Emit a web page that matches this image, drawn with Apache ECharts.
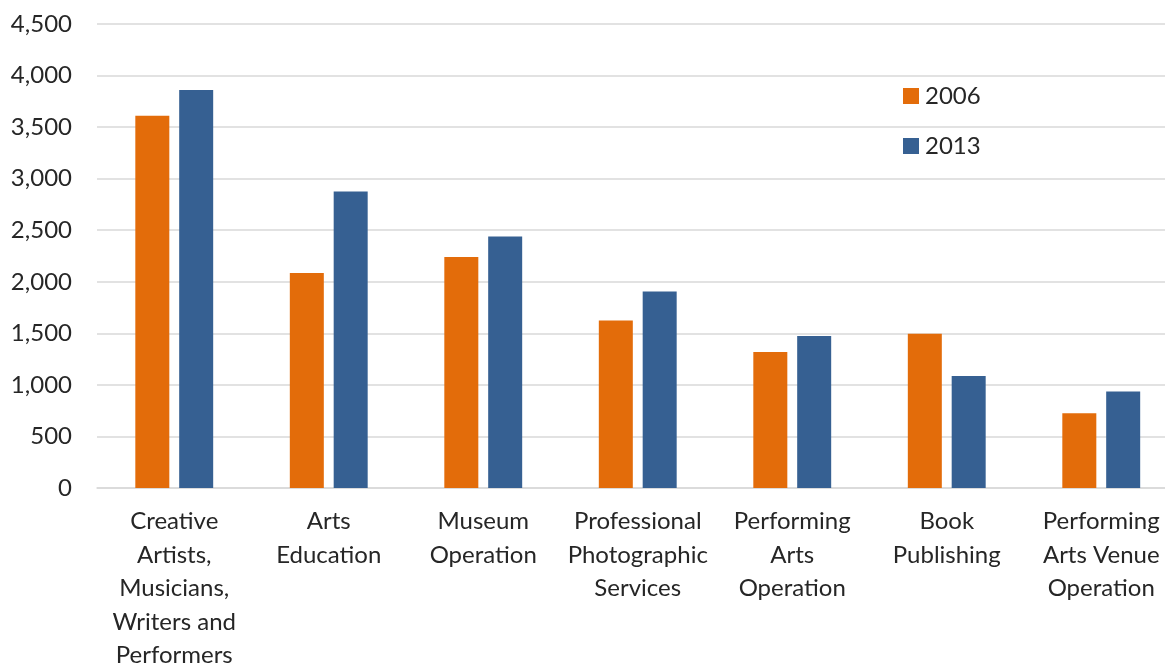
<!DOCTYPE html>
<html>
<head>
<meta charset="utf-8">
<script src="https://cdn.jsdelivr.net/npm/echarts@6/dist/echarts.min.js"></script>
<style>
  html, body { margin: 0; padding: 0; background: #ffffff; }
  #chart { width: 1165px; height: 670px; }
</style>
</head>
<body>
<div id="chart"></div>
<script>
// Employment by arts sector, 2006 vs 2013
const categories = [
  'Creative\nArtists,\nMusicians,\nWriters and\nPerformers',
  'Arts\nEducation',
  'Museum\nOperation',
  'Professional\nPhotographic\nServices',
  'Performing\nArts\nOperation',
  'Book\nPublishing',
  'Performing\nArts Venue\nOperation'
];
const values2006 = [3610, 2085, 2240, 1625, 1318, 1495, 725];
const values2013 = [3860, 2875, 2440, 1906, 1473, 1087, 936];
const seriesNames = ['2006', '2013'];

const FONT = 'Lato, "Open Sans", sans-serif';
const TEXT = '#262626';

const chart = echarts.init(document.getElementById('chart'), null, { renderer: 'canvas' });
chart.setOption({
  animation: false,
  backgroundColor: '#ffffff',
  grid: {
    left: 97, top: 24, width: 1081.5, height: 464,
    containLabel: false,
    outerBoundsMode: 'none'
  },
  legend: {
    orient: 'vertical',
    left: 903,
    top: 84,
    padding: 0,
    itemWidth: 16,
    itemHeight: 16,
    itemGap: 26,
    icon: 'rect',
    textStyle: { fontFamily: FONT, fontSize: 24, color: TEXT, padding: [0, 0, 0, 1] },
    data: seriesNames
  },
  xAxis: {
    type: 'category',
    data: categories,
    axisLine: { show: true, lineStyle: { color: '#d9d9d9', width: 1.5 } },
    axisTick: { show: false },
    axisLabel: {
      interval: 0,
      margin: 17,
      fontFamily: FONT,
      fontSize: 24,
      color: TEXT,
      lineHeight: 33.5,
      align: 'center'
    }
  },
  yAxis: {
    type: 'value',
    min: 0,
    max: 4500,
    interval: 500,
    axisLine: { show: false },
    axisTick: { show: false },
    splitLine: { lineStyle: { color: '#d9d9d9', width: 1.5 } },
    axisLabel: {
      margin: 25,
      fontFamily: FONT,
      fontSize: 24,
      color: TEXT,
      formatter: v => v.toLocaleString('en-US')
    }
  },
  series: [
    {
      name: seriesNames[0],
      type: 'bar',
      data: values2006,
      barWidth: 34,
      barGap: '29%',
      itemStyle: { color: '#E36C0A' }
    },
    {
      name: seriesNames[1],
      type: 'bar',
      data: values2013,
      barWidth: 34,
      barGap: '29%',
      itemStyle: { color: '#366092' }
    }
  ]
});
</script>
</body>
</html>
